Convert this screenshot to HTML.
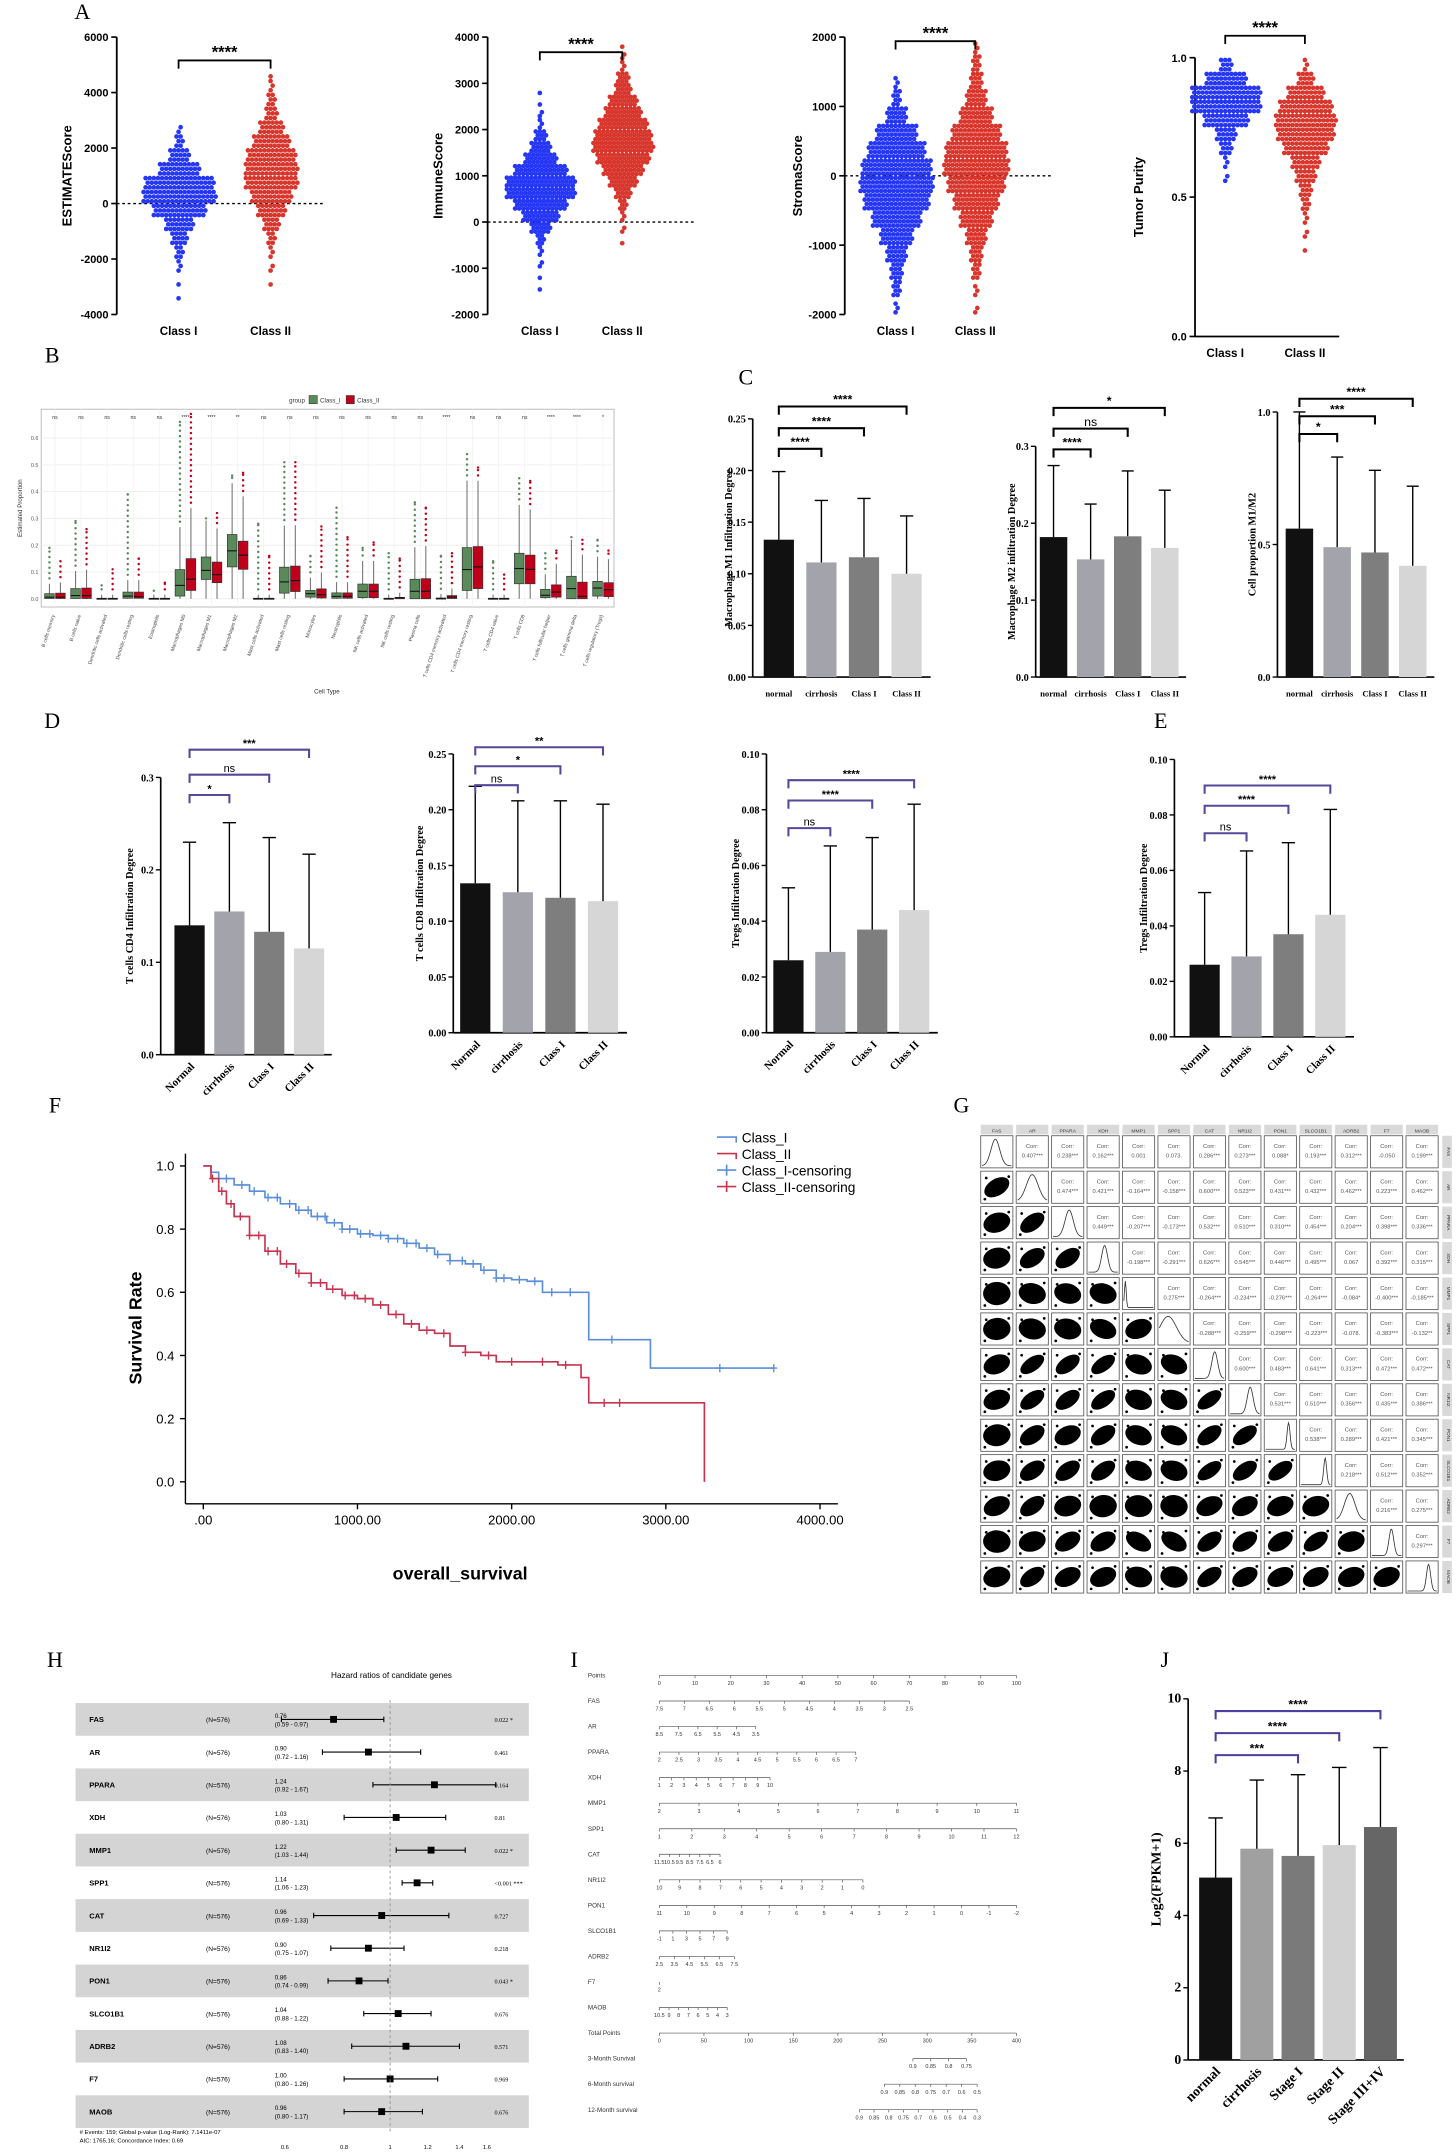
<!DOCTYPE html>
<html><head><meta charset="utf-8"><title>Figure</title>
<style>html,body{margin:0;padding:0;background:#fff;}svg{display:block;}</style></head>
<body>
<svg id="fig" xmlns="http://www.w3.org/2000/svg" width="1456" height="2152" viewBox="0 0 1060 1567" preserveAspectRatio="none"></svg>
<script>
// ---------- DATA ----------
const a1Start=-3500, a1Step=500;
const a1ClassI=[1,1,3,6,12,22,40,55,50,30,15,6,2];
const a1ClassII=[0,1,2,4,7,12,20,30,38,40,36,28,18,10,6,3,1];
const a2Start=-1500, a2Step=250;
const a2ClassI=[1,1,2,4,7,14,26,40,52,50,38,24,14,8,4,2,1,1,0,0,0,0];
const a2ClassII=[0,0,0,0,1,2,4,7,12,20,30,38,44,42,36,28,20,13,8,4,2,1];
const a3Start=-2000, a3Step=250;
const a3ClassI=[3,6,12,21,33,48,63,72,69,57,39,21,9,3,0,0];
const a3ClassII=[2,3,6,12,21,33,45,57,63,60,48,33,21,12,6,3];
const a4Start=0, a4Step=0.05;
const a4ClassI=[0,0,0,0,0,0,0,0,0,0,0,2,4,8,16,32,52,50,30,8];
const a4ClassII=[0,0,0,0,0,0,1,2,3,5,8,14,22,32,42,46,40,26,12,4];
const aTicks1=[6000,4000,2000,0,-2000,-4000];
const aTicks2=[4000,3000,2000,1000,0,-1000,-2000];
const aTicks3=[2000,1000,0,-1000,-2000];
const aTicks4=[1.0,0.5,0.0];

const bCats=['B cells memory','B cells naive','Dendritic cells activated','Dendritic cells resting','Eosinophils','Macrophages M0','Macrophages M1','Macrophages M2','Mast cells activated','Mast cells resting','Monocytes','Neutrophils','NK cells activated','NK cells resting','Plasma cells','T cells CD4 memory activated','T cells CD4 memory resting','T cells CD4 naive','T cells CD8','T cells follicular helper','T cells gamma delta','T cells regulatory (Tregs)'];
const bSig=['ns','ns','ns','ns','ns','****','****','**','ns','ns','ns','ns','ns','ns','ns','****','ns','ns','ns','****','****','*'];
const bGMed=[0.006,0.012,0,0.01,0,0.05,0.106,0.179,0,0.063,0.019,0.009,0.028,0,0.028,0,0.109,0,0.113,0.013,0.038,0.04];
const bGQ1=[0.001,0.001,0,0.002,0,0.01,0.072,0.119,0,0.021,0.006,0.002,0.004,0,0,0,0.031,0,0.056,0.004,0,0.01];
const bGQ3=[0.019,0.038,0.002,0.025,0.002,0.109,0.156,0.24,0.002,0.118,0.031,0.022,0.055,0.002,0.073,0.003,0.191,0.002,0.17,0.035,0.084,0.065];
const bGMax=[0.19,0.29,0.05,0.39,0.03,0.66,0.3,0.46,0.28,0.51,0.16,0.34,0.19,0.17,0.36,0.16,0.54,0.14,0.45,0.17,0.23,0.22];
const bRMed=[0.006,0.012,0,0.008,0,0.073,0.09,0.163,0,0.068,0.015,0.009,0.028,0.004,0.028,0.006,0.119,0,0.11,0.025,0.009,0.034];
const bRQ1=[0.001,0.001,0,0.002,0,0.031,0.06,0.11,0,0.027,0.003,0.002,0.004,0,0,0.001,0.038,0,0.056,0.006,0,0.008];
const bRQ3=[0.021,0.04,0.002,0.025,0.002,0.15,0.137,0.215,0.002,0.122,0.037,0.022,0.055,0.005,0.075,0.012,0.195,0.002,0.163,0.052,0.062,0.06];
const bRMax=[0.14,0.26,0.11,0.15,0.06,0.69,0.32,0.47,0.16,0.51,0.27,0.23,0.21,0.15,0.34,0.17,0.49,0.09,0.44,0.18,0.22,0.18];
const bTicks=[0,0.1,0.2,0.3,0.4,0.5,0.6];

const catsC=['normal','cirrhosis','Class I','Class II'];
const c1Vals=[0.133,0.111,0.116,0.100], c1Errs=[0.199,0.171,0.173,0.156], c1Ticks=[0,0.05,0.10,0.15,0.20,0.25];
const c2Vals=[0.182,0.153,0.183,0.168], c2Errs=[0.275,0.225,0.268,0.243], c2Ticks=[0,0.1,0.2,0.3];
const c3Vals=[0.56,0.49,0.47,0.42], c3Errs=[1.0,0.83,0.78,0.72], c3Ticks=[0,0.5,1.0];
const catsD=['Normal','cirrhosis','Class I','Class II'];
const d1Vals=[0.140,0.155,0.133,0.115], d1Errs=[0.230,0.251,0.235,0.217], d1Ticks=[0,0.1,0.2,0.3];
const d2Vals=[0.134,0.126,0.121,0.118], d2Errs=[0.221,0.208,0.208,0.205], d2Ticks=[0,0.05,0.10,0.15,0.20,0.25];
const d3Vals=[0.026,0.029,0.037,0.044], d3Errs=[0.052,0.067,0.070,0.082], d3Ticks=[0,0.02,0.04,0.06,0.08,0.10];
const catsE=['Normal','cirrhosis','Class I','Class II'];
const eVals=[0.026,0.029,0.037,0.044], eErrs=[0.052,0.067,0.070,0.082], eTicks=[0,0.02,0.04,0.06,0.08,0.10];
const catsJ=['normal','cirrhosis','Stage I','Stage II','Stage III+IV'];
const jVals=[5.05,5.85,5.65,5.95,6.45], jErrs=[6.7,7.75,7.9,8.1,8.65], jTicks=[0,2,4,6,8,10];

const kmBlueT=[0,50,100,200,300,400,500,600,700,800,900,1000,1100,1200,1300,1400,1500,1600,1700,1800,1900,2000,2100,2200,2500,2900,3700];
const kmBlueS=[1,0.98,0.96,0.94,0.92,0.90,0.88,0.86,0.84,0.82,0.80,0.785,0.78,0.77,0.755,0.74,0.72,0.70,0.69,0.67,0.645,0.64,0.635,0.60,0.45,0.36,0.36];
const kmRedT=[0,50,100,150,200,300,400,500,600,700,800,900,1000,1100,1200,1300,1400,1500,1600,1700,1800,1900,2300,2450,2500,3250];
const kmRedS=[1,0.96,0.92,0.88,0.84,0.78,0.73,0.69,0.66,0.63,0.61,0.59,0.58,0.56,0.53,0.50,0.48,0.47,0.43,0.41,0.40,0.38,0.37,0.33,0.25,0];
const kmBlueCens=[150,250,330,420,480,560,620,680,740,790,850,900,950,1020,1080,1150,1200,1260,1320,1380,1450,1520,1600,1680,1750,1820,1900,1950,2050,2150,2260,2380,2650,3350,3700];
const kmRedCens=[60,120,180,240,300,360,420,480,540,620,700,760,840,920,980,1050,1150,1250,1350,1450,1560,1700,1850,2000,2200,2350,2600,2700];
const kmXTicks=[0,1000,2000,3000,4000];
const kmYTicks=[0,0.2,0.4,0.6,0.8,1.0];

const gGenes=['FAS','AR','PPARA','XDH','MMP1','SPP1','CAT','NR1I2','PON1','SLCO1B1','ADRB2','F7','MAOB'];
const gCorr=[
['0.407***','0.238***','0.162***','0.001','0.073.','0.286***','0.273***','0.088*','0.193***','0.312***','-0.050','0.199***'],
['0.474***','0.421***','-0.164***','-0.158***','0.600***','0.523***','0.431***','0.432***','0.462***','0.223***','0.462***'],
['0.449***','-0.207***','-0.173***','0.532***','0.510***','0.310***','0.454***','0.204***','0.398***','0.336***'],
['-0.198***','-0.291***','0.626***','0.545***','0.446***','0.495***','0.067','0.392***','0.315***'],
['0.275***','-0.264***','-0.234***','-0.276***','-0.264***','-0.084*','-0.400***','-0.185***'],
['-0.288***','-0.259***','-0.298***','-0.223***','-0.078.','-0.383***','-0.132**'],
['0.600***','0.483***','0.641***','0.313***','0.472***','0.472***'],
['0.531***','0.510***','0.356***','0.435***','0.386***'],
['0.538***','0.289***','0.421***','0.345***'],
['0.218***','0.512***','0.352***'],
['0.216***','0.275***'],
['0.297***'],
[]];
const gPeak=[0.45,0.5,0.55,0.55,0.05,0.3,0.68,0.68,0.78,0.82,0.45,0.66,0.72];
const gWidth=[0.15,0.2,0.14,0.1,0.03,0.28,0.1,0.1,0.05,0.05,0.18,0.08,0.07];

const hGenes=['FAS','AR','PPARA','XDH','MMP1','SPP1','CAT','NR1I2','PON1','SLCO1B1','ADRB2','F7','MAOB'];
const hHR=[0.76,0.90,1.24,1.03,1.22,1.14,0.96,0.90,0.86,1.04,1.08,1.00,0.96];
const hLo=[0.59,0.72,0.92,0.80,1.03,1.06,0.69,0.75,0.74,0.88,0.83,0.80,0.80];
const hHi=[0.97,1.16,1.67,1.31,1.44,1.23,1.33,1.07,0.99,1.22,1.40,1.26,1.17];
const hP=['0.022 *','0.461','0.164','0.81','0.022 *','<0.001 ***','0.727','0.218','0.043 *','0.676','0.571','0.969','0.676'];
const hTicks=[0.6,0.8,1,1.2,1.4,1.6];

const nLabels=['Points','FAS','AR','PPARA','XDH','MMP1','SPP1','CAT','NR1I2','PON1','SLCO1B1','ADRB2','F7','MAOB','Total Points','3-Month Survival','6-Month survival','12-Month survival'];
const nStart=[0,0,0,0,0,0,0,0,0,0,0,0,0,0,0,71,63,56];
const nEnd=[100,70,27,55,31,100,100,17,57,100,19,21,0,19,100,86,89,89];
const nTicks=[
['0','10','20','30','40','50','60','70','80','90','100'],
['7.5','7','6.5','6','5.5','5','4.5','4','3.5','3','2.5'],
['8.5','7.5','6.5','5.5','4.5','3.5'],
['2','2.5','3','3.5','4','4.5','5','5.5','6','6.5','7'],
['1','2','3','4','5','6','7','8','9','10'],
['2','3','4','5','6','7','8','9','10','11'],
['1','2','3','4','5','6','7','8','9','10','11','12'],
['11.5','10.5','9.5','8.5','7.5','6.5','6'],
['10','9','8','7','6','5','4','3','2','1','0'],
['11','10','9','8','7','6','5','4','3','2','1','0','-1','-2'],
['-1','1','3','5','7','9'],
['2.5','3.5','4.5','5.5','6.5','7.5'],
['2'],
['10.5','9','8','7','6','5','4','3'],
['0','50','100','150','200','250','300','350','400'],
['0.9','0.85','0.8','0.75'],
['0.9','0.85','0.8','0.75','0.7','0.6','0.5'],
['0.9','0.85','0.8','0.75','0.7','0.6','0.5','0.4','0.3']];

// ---------- HELPERS ----------
const NS='http://www.w3.org/2000/svg';
const svg=document.getElementById('fig');
const SANS='Liberation Sans, sans-serif', SERIF='Liberation Serif, serif';
function mk(tag,a,p){const e=document.createElementNS(NS,tag);for(const k in a)e.setAttribute(k,a[k]);(p||svg).appendChild(e);return e;}
function tx(x,y,s,sz,p,o){o=o||{};const e=mk('text',{x:x,y:y,'font-size':sz,'text-anchor':o.a||'middle','font-family':o.f||SANS,'font-weight':o.w||'normal',fill:o.c||'#000'},p);if(o.r!==undefined)e.setAttribute('transform','rotate('+o.r+' '+x+' '+y+')');e.textContent=s;return e;}
function grp(name){const g=mk('g',{});return g;}

[['A',60,14],['B',38,264],['C',543,280],['D',38,530],['E',845,530],['F',40,810],['G',700,810],['H',40,1214],['I',418,1214],['J',848,1214]].forEach(function(L){
  const t=tx(L[1],L[2],L[0],16,svg,{f:SERIF});
  
  
});

// ---------- PANEL A ----------
function swarm(name,o){
  const g=grp(name);
  const k=(o.yBot-o.yTop)/(o.vTop-o.vBot);
  const y=function(v){return o.yTop+(o.vTop-v)*k;};
  const ax=mk('line',{x1:o.ax,y1:o.yTop,x2:o.ax,y2:o.yBot,stroke:'#000','stroke-width':1.3},g);
  
  o.ticks.forEach(function(t){
    mk('line',{x1:o.ax-4,y1:y(t),x2:o.ax,y2:y(t),stroke:'#000','stroke-width':1.2},g);
    const tl=tx(o.ax-6,y(t)+3,o.fmt(t),8,g,{a:'end',w:'bold'});
    
  });
  if(o.zero){const z=mk('line',{x1:o.ax,y1:y(0),x2:o.ax+150,y2:y(0),stroke:'#000','stroke-width':1,'stroke-dasharray':'2,2'},g);}
  if(o.bottom){const b=mk('line',{x1:o.ax,y1:o.yBot,x2:o.ax+105,y2:o.yBot,stroke:'#000','stroke-width':1.3},g);}
  const yt=tx(o.titleX,(o.yTop+o.yBot)/2,o.title,9.5,g,{w:'bold',r:-90});
  
  [o.c1,o.c2].forEach(function(counts,gi){
    const cx=o.cx[gi], col=gi?'#d8362c':'#2536f5';
    const sg=mk('g',{fill:col},g);
    
    counts.forEach(function(c,i){
      if(!c)return;
      const binPx=o.step*k, sub=Math.max(2,Math.round(binPx/3.3));
      for(let s=0;s<sub;s++){
        const n=Math.max(1,Math.round(c/sub)); if(c<sub && s>=c) continue;
        const v=o.start+(i+(s+0.5)/sub)*o.step;
        const off=(s%2)*1.5;
        for(let d=0;d<n;d++){mk('circle',{cx:cx+(d-(n-1)/2)*3+off,cy:y(v),r:1.7},sg);}
      }
    });
    const cl=tx(cx,o.labY,gi?'Class II':'Class I',8.5,g,{w:'bold'});
    
  });
  const br=mk('path',{d:'M'+o.cx[0]+' '+(o.br+6)+'V'+o.br+'H'+o.cx[1]+'V'+(o.br+6),fill:'none',stroke:'#000','stroke-width':1.3},g);
  
  const st=tx((o.cx[0]+o.cx[1])/2,o.br-2,'****',12,g,{w:'bold'});
  
}
const intf=function(v){return String(v);};
swarm('estimate-score-plot',{ax:85,yTop:27,yBot:229,vTop:6000,vBot:-4000,ticks:aTicks1,fmt:intf,zero:true,title:'ESTIMATEScore',titleX:52,cx:[130,197],br:44,labY:244,c1:a1ClassI,c2:a1ClassII,start:a1Start,step:a1Step});
swarm('immune-score-plot',{ax:355,yTop:27,yBot:229,vTop:4000,vBot:-2000,ticks:aTicks2,fmt:intf,zero:true,title:'ImmuneScore',titleX:322,cx:[393,453],br:38,labY:244,c1:a2ClassI,c2:a2ClassII,start:a2Start,step:a2Step});
swarm('stromal-score-plot',{ax:615,yTop:27,yBot:229,vTop:2000,vBot:-2000,ticks:aTicks3,fmt:intf,zero:true,title:'StromaScore',titleX:584,cx:[652,710],br:30,labY:244,c1:a3ClassI,c2:a3ClassII,start:a3Start,step:a3Step});
swarm('tumor-purity-plot',{ax:870,yTop:42,yBot:245,vTop:1,vBot:0,ticks:aTicks4,fmt:function(v){return v.toFixed(1);},zero:false,bottom:true,title:'Tumor Purity',titleX:832,cx:[892,950],br:26,labY:260,c1:a4ClassI,c2:a4ClassII,start:a4Start,step:a4Step});

// ---------- PANEL B ----------
(function(){
  const g=grp('cell-proportion-boxplot');
  const L=30,R=447,T=298,B=442, y0=436, k=195;
  const y=function(v){return y0-v*k;};
  mk('rect',{x:L,y:T,width:R-L,height:B-T,fill:'#fff',stroke:'#bbb','stroke-width':0.7},g);
  bTicks.forEach(function(t){
    mk('line',{x1:L,y1:y(t),x2:R,y2:y(t),stroke:'#ececec','stroke-width':0.6},g);
    const tl=tx(L-2,y(t)+1.5,t.toFixed(1),4,g,{a:'end',c:'#555'});
    
  });
  const yt=tx(16,370,'Estimated Proportion',4.5,g,{r:-90,c:'#333'});
  
  const lg=mk('g',{},g);
  
  tx(222,293,'group',4.5,lg,{a:'end',c:'#333'});
  mk('rect',{x:225,y:288,width:6,height:6,fill:'#5a8a5a',stroke:'#333','stroke-width':0.4},lg);
  tx(233,293,'Class_I',4.5,lg,{a:'start',c:'#333'});
  mk('rect',{x:252,y:288,width:6,height:6,fill:'#c0001a',stroke:'#333','stroke-width':0.4},lg);
  tx(260,293,'Class_II',4.5,lg,{a:'start',c:'#333'});
  bCats.forEach(function(c,i){
    const cx=L+10+i*19.0;
    mk('line',{x1:cx,y1:T,x2:cx,y2:B,stroke:'#f2f2f2','stroke-width':0.6},g);
    const sl=tx(cx,305,bSig[i],3.8,g,{c:'#333'});
    
    [[bGMed,bGQ1,bGQ3,bGMax,'#5a8a5a',-4],[bRMed,bRQ1,bRQ3,bRMax,'#c0001a',4]].forEach(function(s){
      const bx=cx+s[5], med=s[0][i], q1=s[1][i], q3=s[2][i], mx=s[3][i];
      const wh=Math.min(mx,q3+1.5*(q3-q1)+0.01);
      const bg=mk('g',{},g);
      
      mk('line',{x1:bx,y1:y(0),x2:bx,y2:y(wh),stroke:'#777','stroke-width':0.8},bg);
      for(let v=wh+0.02;v<=mx+0.0001;v+=0.02){mk('circle',{cx:bx,cy:y(v),r:0.9,fill:s[4]},bg);}
      mk('circle',{cx:bx,cy:y(mx),r:0.9,fill:s[4]},bg);
      mk('rect',{x:bx-3.5,y:y(q3),width:7,height:Math.max(0.8,(q3-q1)*k),fill:s[4],stroke:'#333','stroke-width':0.5},bg);
      mk('line',{x1:bx-3.5,y1:y(med),x2:bx+3.5,y2:y(med),stroke:'#111','stroke-width':0.8},bg);
    });
    const cl=tx(cx,448,c,3.6,g,{a:'end',r:-72,c:'#444'});
    
  });
  const xt=tx(238,505,'Cell Type',4.5,g,{c:'#333'});
  
})();

// ---------- BAR CHARTS ----------
function barChart(name,o){
  const g=grp(name);
  const y=function(v){return o.y0-v*o.k;};
  const n=o.vals.length;
  const top=o.ticks[o.ticks.length-1];
  const ya=mk('line',{x1:o.ax,y1:o.y0,x2:o.ax,y2:y(top),stroke:'#000','stroke-width':1.2},g);
  
  const xa=mk('line',{x1:o.ax,y1:o.y0,x2:o.x0+(n-0.5)*o.step+2,y2:o.y0,stroke:'#000','stroke-width':1.2},g);
  
  o.ticks.forEach(function(t){
    mk('line',{x1:o.ax-3.5,y1:y(t),x2:o.ax,y2:y(t),stroke:'#000','stroke-width':1},g);
    const tl=tx(o.ax-5,y(t)+2.8,t.toFixed(o.dec),o.tsz||7.5,g,{a:'end',f:SERIF,w:'bold'});
    
  });
  const yt=tx(o.titleX,(o.y0+y(top))/2,o.title,o.titsz||7.5,g,{f:SERIF,w:'bold',r:-90});
  
  o.vals.forEach(function(v,i){
    const cx=o.x0+i*o.step;
    const b=mk('rect',{x:cx-o.bw/2,y:y(v),width:o.bw,height:v*o.k,fill:o.colors[i]},g);
    
    const e=mk('path',{d:'M'+cx+' '+y(v)+'V'+y(o.errs[i])+'M'+(cx-o.bw*0.22)+' '+y(o.errs[i])+'H'+(cx+o.bw*0.22),stroke:'#000','stroke-width':1,fill:'none'},g);
    
    let cl;
    if(o.rot){cl=tx(cx+4,o.y0+9,o.cats[i],o.lsz||8,g,{a:'end',f:SERIF,w:'bold',r:-45});}
    else{cl=tx(cx,o.y0+14,o.cats[i],6.3,g,{f:SERIF,w:'bold'});}
    
  });
  o.brackets.forEach(function(b){
    const yb=y(b.v), x2=o.x0+b.i*o.step;
    const p=mk('path',{d:'M'+o.x0+' '+(yb+6)+'V'+yb+'H'+x2+'V'+(yb+6),fill:'none',stroke:o.bc,'stroke-width':1.5},g);
    
    const t=tx((o.x0+x2)/2,yb-2,b.l,o.ssz||9,g,{w:b.l==='ns'?'normal':'bold'});
    
  });
}
const colsC=['#111111','#a3a3ab','#7e7e7e','#d6d6d6'];
barChart('macrophage-m1-chart',{ax:548,y0:493,k:752,ticks:c1Ticks,dec:2,title:'Macrophage M1 Infiltration Degree',titleX:533,cats:catsC,vals:c1Vals,errs:c1Errs,colors:colsC,x0:567,step:31,bw:22,bc:'#000',brackets:[{i:1,v:0.221,l:'****'},{i:2,v:0.241,l:'****'},{i:3,v:0.262,l:'****'}]});
barChart('macrophage-m2-chart',{ax:754,y0:493,k:560,ticks:c2Ticks,dec:1,title:'Macrophage M2 infiltration Degree',titleX:739,cats:catsC,vals:c2Vals,errs:c2Errs,colors:colsC,x0:767,step:27,bw:20,bc:'#000',brackets:[{i:1,v:0.296,l:'****'},{i:2,v:0.323,l:'ns'},{i:3,v:0.35,l:'*'}]});
barChart('m1-m2-ratio-chart',{ax:930,y0:493,k:193,ticks:c3Ticks,dec:1,title:'Cell proportion M1/M2',titleX:914,cats:catsC,vals:c3Vals,errs:c3Errs,colors:colsC,x0:946,step:27.5,bw:20,bc:'#000',brackets:[{i:1,v:0.917,l:'*'},{i:2,v:0.984,l:'***'},{i:3,v:1.05,l:'****'}]});
const purp='#55489a';
barChart('cd4-chart',{ax:117,y0:768,k:673,ticks:d1Ticks,dec:1,title:'T cells CD4 Infiltration Degree',titleX:97,cats:catsD,vals:d1Vals,errs:d1Errs,colors:colsC,x0:138,step:29,bw:22,bc:purp,rot:true,ssz:8,brackets:[{i:1,v:0.281,l:'*'},{i:2,v:0.303,l:'ns'},{i:3,v:0.33,l:'***'}]});
barChart('cd8-chart',{ax:330,y0:752,k:812,ticks:d2Ticks,dec:2,title:'T cells CD8 Infiltration Degree',titleX:308,cats:catsD,vals:d2Vals,errs:d2Errs,colors:colsC,x0:346,step:31,bw:22,bc:purp,rot:true,ssz:8,brackets:[{i:1,v:0.222,l:'ns'},{i:2,v:0.239,l:'*'},{i:3,v:0.256,l:'**'}]});
barChart('tregs-chart-d',{ax:558,y0:752,k:2030,ticks:d3Ticks,dec:2,title:'Tregs Infiltration Degree',titleX:538,cats:catsD,vals:d3Vals,errs:d3Errs,colors:colsC,x0:574,step:30.5,bw:22,bc:purp,rot:true,ssz:8,brackets:[{i:1,v:0.0734,l:'ns'},{i:2,v:0.0833,l:'****'},{i:3,v:0.0906,l:'****'}]});
barChart('tregs-chart-e',{ax:855,y0:755,k:2020,ticks:eTicks,dec:2,title:'Tregs Infiltration Degree',titleX:835,cats:catsE,vals:eVals,errs:eErrs,colors:colsC,x0:877,step:30.5,bw:22,bc:purp,rot:true,ssz:8,brackets:[{i:1,v:0.0734,l:'ns'},{i:2,v:0.0833,l:'****'},{i:3,v:0.0906,l:'****'}]});
barChart('expression-stage-chart',{ax:865,y0:1500,k:26.3,ticks:jTicks,dec:0,tsz:10,title:'Log2(FPKM+1)',titsz:10,titleX:845,cats:catsJ,vals:jVals,errs:jErrs,colors:['#111111','#a0a0a0','#7a7a7a','#d2d2d2','#666666'],x0:885,step:30,bw:24,bc:'#4b3fa0',rot:true,lsz:10,ssz:9,brackets:[{i:2,v:8.44,l:'***'},{i:3,v:9.05,l:'****'},{i:4,v:9.66,l:'****'}]});

// ---------- PANEL F ----------
(function(){
  const g=grp('survival-curve');
  const X=function(t){return 148+t*0.11225;}, Y=function(s){return 1079-s*230;};
  const ya=mk('line',{x1:135,y1:840,x2:135,y2:1095,stroke:'#000','stroke-width':1},g); 
  const xa=mk('line',{x1:135,y1:1095,x2:610,y2:1095,stroke:'#000','stroke-width':1},g); 
  kmYTicks.forEach(function(t){mk('line',{x1:131,y1:Y(t),x2:135,y2:Y(t),stroke:'#000'},g);const l=tx(127,Y(t)+3.5,t.toFixed(1),9.5,g,{a:'end'});});
  kmXTicks.forEach(function(t){mk('line',{x1:X(t),y1:1095,x2:X(t),y2:1099,stroke:'#000'},g);const l=tx(X(t),1110,t===0?'.00':t.toFixed(2),9.5,g);});
  const yt=tx(103,967,'Survival Rate',13,g,{w:'bold',r:-90}); 
  const xt=tx(335,1150,'overall_survival',13,g,{w:'bold'}); 
  function step(T,S){let d='M'+X(T[0])+' '+Y(S[0]);for(let i=1;i<T.length;i++){d+='H'+X(T[i])+'V'+Y(S[i]);}return d;}
  function sAt(T,S,t){let s=S[0];for(let i=0;i<T.length;i++){if(T[i]<=t)s=S[i];}return s;}
  [[kmBlueT,kmBlueS,kmBlueCens,'#5b8fd9','class-i'],[kmRedT,kmRedS,kmRedCens,'#c8334f','class-ii']].forEach(function(c){
    const p=mk('path',{d:step(c[0],c[1]),fill:'none',stroke:c[3],'stroke-width':1.2},g);
    
    const cg=mk('g',{stroke:c[3],'stroke-width':1},g);
    
    c[2].forEach(function(t){const yy=Y(sAt(c[0],c[1],t));mk('path',{d:'M'+X(t)+' '+(yy-3)+'V'+(yy+3)+'M'+(X(t)-2.5)+' '+yy+'H'+(X(t)+2.5)},cg);});
  });
  const lg=mk('g',{},g); 
  [['Class_I','#5b8fd9',0],['Class_II','#c8334f',0],['Class_I-censoring','#5b8fd9',1],['Class_II-censoring','#c8334f',1]].forEach(function(e,i){
    const yy=831+i*12;
    mk('path',{d:'M522 '+(yy-3)+'H536'+(e[2]?'M529 '+(yy-7)+'V'+(yy+1):'V'+(yy+1)),fill:'none',stroke:e[1],'stroke-width':1.2},lg);
    const l=tx(540,yy+1,e[0],10,lg,{a:'start'}); 
  });
})();

// ---------- PANEL G ----------
(function(){
  const g=grp('correlation-matrix');
  const x0=714,y0=827,st=25.8,sz=23.4,n=gGenes.length;
  function corrVal(i,j){return parseFloat(gCorr[Math.min(i,j)][Math.max(i,j)-Math.min(i,j)-1]);}
  gGenes.forEach(function(gn,j){
    mk('rect',{x:x0+j*st,y:819,width:sz,height:7,fill:'#d9d9d9'},g);
    const h=tx(x0+j*st+sz/2,824.5,gn,3.6,g,{c:'#333'}); 
    mk('rect',{x:1050,y:y0+j*st,width:7,height:sz,fill:'#d9d9d9'},g);
    const r=tx(1053.5,y0+j*st+sz/2,gn,3.4,g,{c:'#333',r:90}); 
  });
  for(let i=0;i<n;i++){for(let j=0;j<n;j++){
    const cx=x0+j*st, cy=y0+i*st;
    const cell=mk('g',{},g);
    
    mk('rect',{x:cx,y:cy,width:sz,height:sz,fill:'#fff',stroke:'#555','stroke-width':0.6},cell);
    if(j>i){
      tx(cx+sz/2,cy+9,'Corr:',4.2,cell,{c:'#555'});
      tx(cx+sz/2,cy+16,gCorr[i][j-i-1],4.2,cell,{c:'#555'});
    } else if(i===j){
      let d='';for(let s=0;s<=40;s++){const u=s/40;const v=Math.exp(-Math.pow((u-gPeak[i])/gWidth[i],2)/2);d+=(s?'L':'M')+(cx+1+u*(sz-2))+' '+(cy+sz-1.5-v*(sz-4));}
      mk('path',{d:d,fill:'none',stroke:'#333','stroke-width':0.6},cell);
    } else {
      const r=corrVal(i,j);
      const ang=r>=0?-35*Math.min(1,Math.abs(r)*2.2):35*Math.min(1,Math.abs(r)*2.2);
      mk('ellipse',{cx:cx+sz/2,cy:cy+sz/2,rx:10,ry:Math.max(5,8.5*(1-0.7*Math.abs(r))),fill:'#000',transform:'rotate('+ang+' '+(cx+sz/2)+' '+(cy+sz/2)+')'},cell);
      mk('circle',{cx:cx+3,cy:cy+sz-3,r:1,fill:'#000'},cell);
      mk('circle',{cx:cx+sz-3,cy:cy+4,r:1,fill:'#000'},cell);
      mk('circle',{cx:cx+4,cy:cy+5,r:1,fill:'#000'},cell);
    }
  }}
})();

// ---------- PANEL H ----------
(function(){
  const g=grp('forest-plot');
  const X=function(v){return 284+150*Math.log(v);};
  const t=tx(285,1222,'Hazard ratios of candidate genes',6,g); 
  const r0=1252, st=23.8;
  hGenes.forEach(function(gn,i){
    const yy=r0+i*st;
    const row=mk('g',{},g);
    
    if(i%2===0) mk('rect',{x:55,y:yy-st/2,width:330,height:st,fill:'#d4d4d4'},row);
    tx(65,yy+2,gn,5.5,row,{a:'start',w:'bold'});
    tx(150,yy+2,'(N=576)',4.8,row,{a:'start'});
    tx(200,yy-1,hHR[i].toFixed(2),4.5,row,{a:'start'});
    tx(200,yy+5,'('+hLo[i].toFixed(2)+' - '+hHi[i].toFixed(2)+')',4.5,row,{a:'start'});
    tx(360,yy+2,hP[i],4.5,row,{a:'start',f:SERIF});
    mk('line',{x1:X(hLo[i]),y1:yy,x2:X(hHi[i]),y2:yy,stroke:'#000','stroke-width':0.8},row);
    mk('path',{d:'M'+X(hLo[i])+' '+(yy-2)+'V'+(yy+2)+'M'+X(hHi[i])+' '+(yy-2)+'V'+(yy+2),stroke:'#000','stroke-width':0.8},row);
    mk('rect',{x:X(hHR[i])-2.5,y:yy-2.5,width:5,height:5,fill:'#000'},row);
  });
  const rl=mk('line',{x1:X(1),y1:1238,x2:X(1),y2:1552,stroke:'#888','stroke-width':0.6,'stroke-dasharray':'2,2'},g); 
  hTicks.forEach(function(v){const l=tx(X(v),1565,String(v),4.2,g);});
  const f1=tx(58,1554,'# Events: 159; Global p-value (Log-Rank): 7.1411e-07',4.3,g,{a:'start'}); 
  const f2=tx(58,1560,'AIC: 1765.16; Concordance Index: 0.69',4.3,g,{a:'start'}); 
})();

// ---------- PANEL I ----------
(function(){
  const g=grp('nomogram');
  const X=function(p){return 480+p*2.6;};
  nLabels.forEach(function(lab,i){
    const yy=1220+i*18.6;
    const row=mk('g',{},g);
    
    tx(428,yy+1.5,lab,4.6,row,{a:'start',c:'#333'});
    const a=X(nStart[i]), b=X(nEnd[i]), tk=nTicks[i];
    mk('line',{x1:a,y1:yy,x2:b,y2:yy,stroke:'#555','stroke-width':0.5},row);
    tk.forEach(function(s,k){
      const xx=tk.length>1?a+(b-a)*k/(tk.length-1):a;
      mk('line',{x1:xx,y1:yy,x2:xx,y2:yy+2,stroke:'#555','stroke-width':0.5},row);
      tx(xx,yy+7,s,4,row,{c:'#333'});
    });
  });
})();
</script>
</body></html>
